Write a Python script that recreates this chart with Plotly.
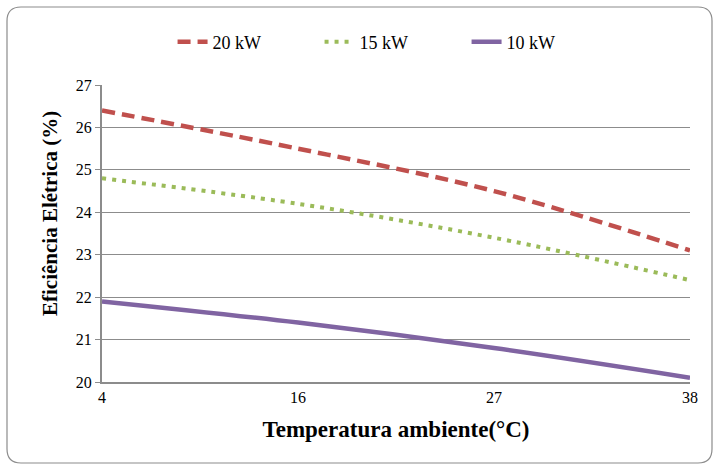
import plotly.graph_objects as go

temps = ["4", "16", "27", "38"]
s20 = [26.4, 25.5, 24.5, 23.1]
s15 = [24.8, 24.2, 23.4, 22.4]
s10 = [21.9, 21.4, 20.8, 20.1]
y_ticks = [20, 21, 22, 23, 24, 25, 26, 27]

FONT = "Liberation Serif, Times New Roman, serif"
W, H = 717, 470
L, R, T, B = 102, 27, 85, 88
pw, ph = W - L - R, H - T - B

fig = go.Figure()
fig.add_trace(go.Scatter(x=temps, y=s20, name="20 kW", mode="lines", line_shape="spline",
                         line=dict(color="#C0504D", width=4.5, dash="13px,7px")))
fig.add_trace(go.Scatter(x=temps, y=s15, name="15 kW", mode="lines", line_shape="spline",
                         line=dict(color="#9BBB59", width=4, dash="4px,6px")))
fig.add_trace(go.Scatter(x=temps, y=s10, name="10 kW", mode="lines", line_shape="spline",
                         line=dict(color="#8064A2", width=4.5)))

def px(x):
    return (x - L) / pw

def py(y):
    return (H - B - y) / ph

x0, x1, y0, y1, r = 7, 712, 7, 463, 14
path = (f"M {px(x0+r)},{py(y0)} L {px(x1-r)},{py(y0)} Q {px(x1)},{py(y0)} {px(x1)},{py(y0+r)} "
        f"L {px(x1)},{py(y1-r)} Q {px(x1)},{py(y1)} {px(x1-r)},{py(y1)} "
        f"L {px(x0+r)},{py(y1)} Q {px(x0)},{py(y1)} {px(x0)},{py(y1-r)} "
        f"L {px(x0)},{py(y0+r)} Q {px(x0)},{py(y0)} {px(x0+r)},{py(y0)} Z")

fig.update_layout(
    width=W, height=H,
    margin=dict(l=L, r=R, t=T, b=B),
    paper_bgcolor="white", plot_bgcolor="white",
    font=dict(family=FONT, size=16, color="black"),
    shapes=[dict(type="path", path=path, xref="paper", yref="paper",
                 line=dict(color="#8C8C8C", width=1.2), layer="below")],
    legend=dict(orientation="h", x=0.495, y=py(42), xanchor="center", yanchor="middle",
                font=dict(family=FONT, size=18, color="black"), bgcolor="rgba(0,0,0,0)",
                entrywidth=102, entrywidthmode="pixels"),
    annotations=[dict(text="<b>Eficiência Elétrica (%)</b>", textangle=-90, xref="paper", yref="paper",
                      x=px(50), y=py(214), xanchor="center", yanchor="middle", showarrow=False,
                      font=dict(family=FONT, size=21, color="black"))],
    xaxis=dict(type="category", range=[0, 3], showgrid=False, showline=True,
               linecolor="#8C8C8C", linewidth=2, ticks="", tickfont=dict(family=FONT, size=16),
               title=dict(text="<b>Temperatura ambiente(°C)</b>", font=dict(family=FONT, size=23), standoff=16)),
    yaxis=dict(range=[20, 27], tickvals=y_ticks, showgrid=True, gridcolor="#8C8C8C", gridwidth=1.3,
               showline=True, linecolor="#8C8C8C", linewidth=2, ticks="outside", ticklen=5,
               tickcolor="#8C8C8C", tickfont=dict(family=FONT, size=16), zeroline=False),
)

fig.write_html("out.html")
